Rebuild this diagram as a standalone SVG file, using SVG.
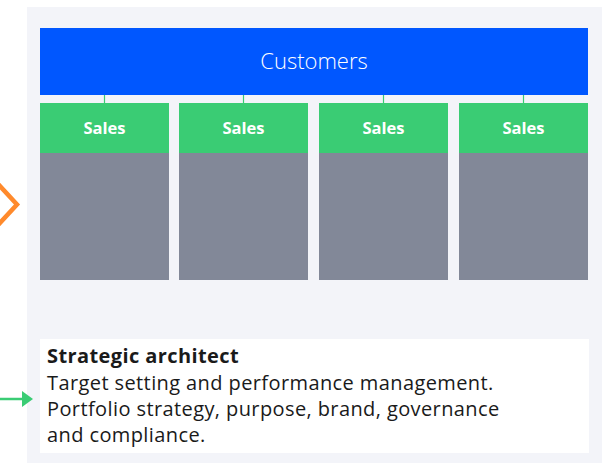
<svg xmlns="http://www.w3.org/2000/svg" width="602" height="463" viewBox="0 0 602 463">
<style>
.panel{fill:#f3f4f9}
.cust{fill:#0057ff}
.sales{fill:#3acc74}
.body{fill:#828898}
.conn{stroke:#3acc74;stroke-width:1.2;fill:none}
.st{font-family:"Open Sans","Noto Sans",sans-serif;font-weight:700;font-size:16.5px;fill:#ffffff;text-anchor:middle}
.ct{font-family:"Open Sans","Noto Sans",sans-serif;font-weight:300;font-size:22px;fill:#ffffff;text-anchor:middle}
.t{font-family:"Open Sans","Noto Sans",sans-serif;font-size:20px;letter-spacing:0.4px;fill:#1a1a1a}
</style>
<rect width="602" height="463" fill="#ffffff"/>
<rect class="panel" x="27" y="7" width="575" height="456"/>
<g id="customers">
<rect class="cust" x="40" y="28" width="548" height="67"/>
<text class="ct" x="314" y="69">Customers</text>
</g>
<g id="connectors">
<line class="conn" x1="104.5" y1="95" x2="104.5" y2="103"/>
<line class="conn" x1="243.5" y1="95" x2="243.5" y2="103"/>
<line class="conn" x1="383.5" y1="95" x2="383.5" y2="103"/>
<line class="conn" x1="523.5" y1="95" x2="523.5" y2="103"/>
</g>
<g id="sales1">
<rect class="sales" x="40" y="103" width="129" height="50"/>
<rect class="body" x="40" y="153" width="129" height="127"/>
<text class="st" x="104.5" y="134">Sales</text>
</g>
<g id="sales2">
<rect class="sales" x="179" y="103" width="129" height="50"/>
<rect class="body" x="179" y="153" width="129" height="127"/>
<text class="st" x="243.5" y="134">Sales</text>
</g>
<g id="sales3">
<rect class="sales" x="319" y="103" width="129" height="50"/>
<rect class="body" x="319" y="153" width="129" height="127"/>
<text class="st" x="383.5" y="134">Sales</text>
</g>
<g id="sales4">
<rect class="sales" x="459" y="103" width="129" height="50"/>
<rect class="body" x="459" y="153" width="129" height="127"/>
<text class="st" x="523.5" y="134">Sales</text>
</g>
<g id="chevron">
<polyline points="-2,184 17,204.5 -2,225" fill="none" stroke="#ff8a2c" stroke-width="4.5"/>
</g>
<g id="arrow">
<line x1="0" y1="399" x2="23" y2="399" stroke="#3acc74" stroke-width="2.5"/>
<polygon points="22,391 33,399 22,407" fill="#3acc74"/>
</g>
<g id="architect">
<rect x="40" y="339" width="549" height="114" fill="#ffffff"/>
<text class="t" x="47" y="363" font-weight="700" letter-spacing="-0.2">Strategic architect</text>
<text class="t" x="47" y="390">Target setting and performance management.</text>
<text class="t" x="47" y="416">Portfolio strategy, purpose, brand, governance</text>
<text class="t" x="47" y="442">and compliance.</text>
</g>
</svg>
